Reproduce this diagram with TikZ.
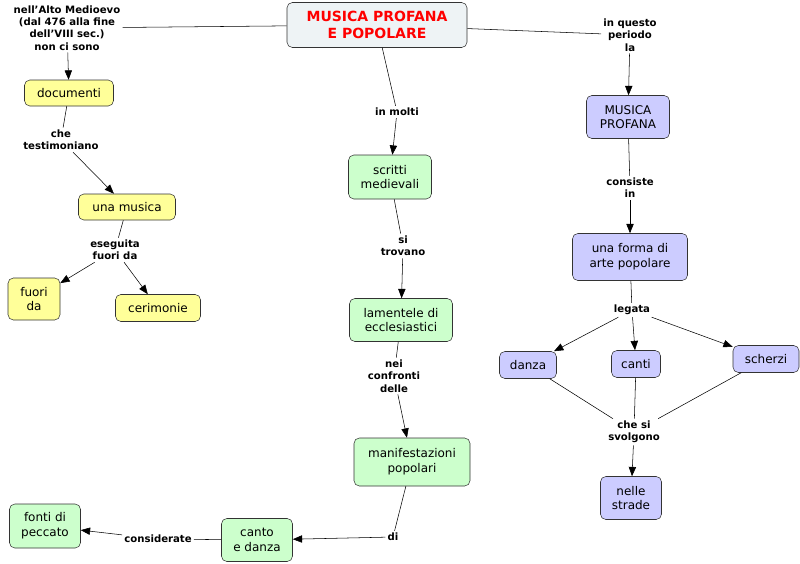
\documentclass[tikz,border=0pt]{standalone}
\usepackage{fontspec}
\setmainfont{DejaVu Sans}
\usetikzlibrary{arrows.meta}
\definecolor{yel}{HTML}{FFFF99}
\definecolor{grn}{HTML}{CCFFCC}
\definecolor{lav}{HTML}{CCCCFF}
\definecolor{ttl}{HTML}{EEF3F5}
\begin{document}
\begin{tikzpicture}[x=0.75pt,y=-0.75pt,
 box/.style={draw=black!80,rounded corners=4pt,align=center,font=\fontsize{9}{11}\selectfont,inner sep=0pt},
 Y/.style={box,fill=yel},G/.style={box,fill=grn},L/.style={box,fill=lav},
 lab/.style={align=center,font=\fontsize{7.6}{9.2}\selectfont\bfseries,inner sep=1.5pt},
 ar/.style={-{Triangle[length=7pt,width=5.5pt]}},
 ln/.style={}]
\useasboundingbox (0,0) rectangle (800,564);
\node[box,fill=ttl,minimum width=180*0.75pt,minimum height=45*0.75pt,font=\fontsize{10.5}{13}\selectfont\bfseries,text=red] (t) at (377,25) {MUSICA PROFANA\\E POPOLARE};
\node[Y,minimum width=89*0.75pt,minimum height=26*0.75pt] (doc) at (69,93) {documenti};
\node[Y,minimum width=97*0.75pt,minimum height=26*0.75pt] (mus) at (127,207) {una musica};
\node[Y,minimum width=52*0.75pt,minimum height=42*0.75pt] (fuo) at (34,299) {fuori\\da};
\node[Y,minimum width=85*0.75pt,minimum height=27*0.75pt] (cer) at (158,308) {cerimonie};
\node[G,minimum width=83*0.75pt,minimum height=44*0.75pt] (scr) at (390,177) {scritti\\medievali};
\node[G,minimum width=103*0.75pt,minimum height=43*0.75pt] (lam) at (401,320) {lamentele di\\ecclesiastici};
\node[G,minimum width=116*0.75pt,minimum height=48*0.75pt] (man) at (412,462) {manifestazioni\\popolari};
\node[G,minimum width=71*0.75pt,minimum height=43*0.75pt] (cd) at (257,540) {canto\\e danza};
\node[G,minimum width=71*0.75pt,minimum height=44*0.75pt] (fon) at (45,526) {fonti di\\peccato};
\node[L,minimum width=83*0.75pt,minimum height=43*0.75pt] (mp) at (628,117) {MUSICA\\PROFANA};
\node[L,minimum width=115*0.75pt,minimum height=47*0.75pt] (for) at (630,257) {una forma di\\arte popolare};
\node[L,minimum width=57*0.75pt,minimum height=27*0.75pt] (dan) at (528,365) {danza};
\node[L,minimum width=49*0.75pt,minimum height=27*0.75pt] (can) at (636,364) {canti};
\node[L,minimum width=66*0.75pt,minimum height=27*0.75pt] (sch) at (766,359) {scherzi};
\node[L,minimum width=61*0.75pt,minimum height=43*0.75pt] (nel) at (631,498) {nelle\\strade};
\node[lab] (l1) at (67,28) {nell'Alto Medioevo\\(dal 476 alla fine\\dell'VIII sec.)\\non ci sono};
\node[lab] (l2) at (61,140) {che\\testimoniano};
\node[lab] (l3) at (115,250) {eseguita\\fuori da};
\node[lab] (l4) at (397,112) {in molti};
\node[lab] (l5) at (403,246) {si\\trovano};
\node[lab] (l6) at (394,376) {nei\\confronti\\delle};
\node[lab] (l7) at (393,537) {di};
\node[lab] (l8) at (158,539) {considerate};
\node[lab] (l9) at (630,35) {in questo\\periodo\\la};
\node[lab] (l10) at (630,188) {consiste\\in};
\node[lab] (l11) at (632,310) {legata};
\node[lab] (l12) at (634,432) {che si\\svolgono};
\draw (t) -- (l1); \draw[ar] (l1) -- (doc);
\draw (doc) -- (l2); \draw[ar] (l2) -- (mus);
\draw (mus) -- (l3); \draw[ar] (l3) -- (fuo); \draw[ar] (l3) -- (cer);
\draw (t) -- (l4); \draw[ar] (l4) -- (scr);
\draw (scr) -- (l5); \draw[ar] (l5) -- (lam);
\draw (lam) -- (l6); \draw[ar] (l6) -- (man);
\draw (man) -- (l7); \draw[ar] (l7) -- (cd);
\draw (cd) -- (l8); \draw[ar] (l8) -- (fon);
\draw (t) -- (l9); \draw[ar] (l9) -- (mp);
\draw (mp) -- (l10); \draw[ar] (l10) -- (for);
\draw (for) -- (l11); \draw[ar] (l11) -- (dan); \draw[ar] (l11) -- (can); \draw[ar] (l11) -- (sch);
\draw (dan) -- (l12); \draw (can) -- (l12); \draw (sch) -- (l12); \draw[ar] (l12) -- (nel);
\end{tikzpicture}
\end{document}
